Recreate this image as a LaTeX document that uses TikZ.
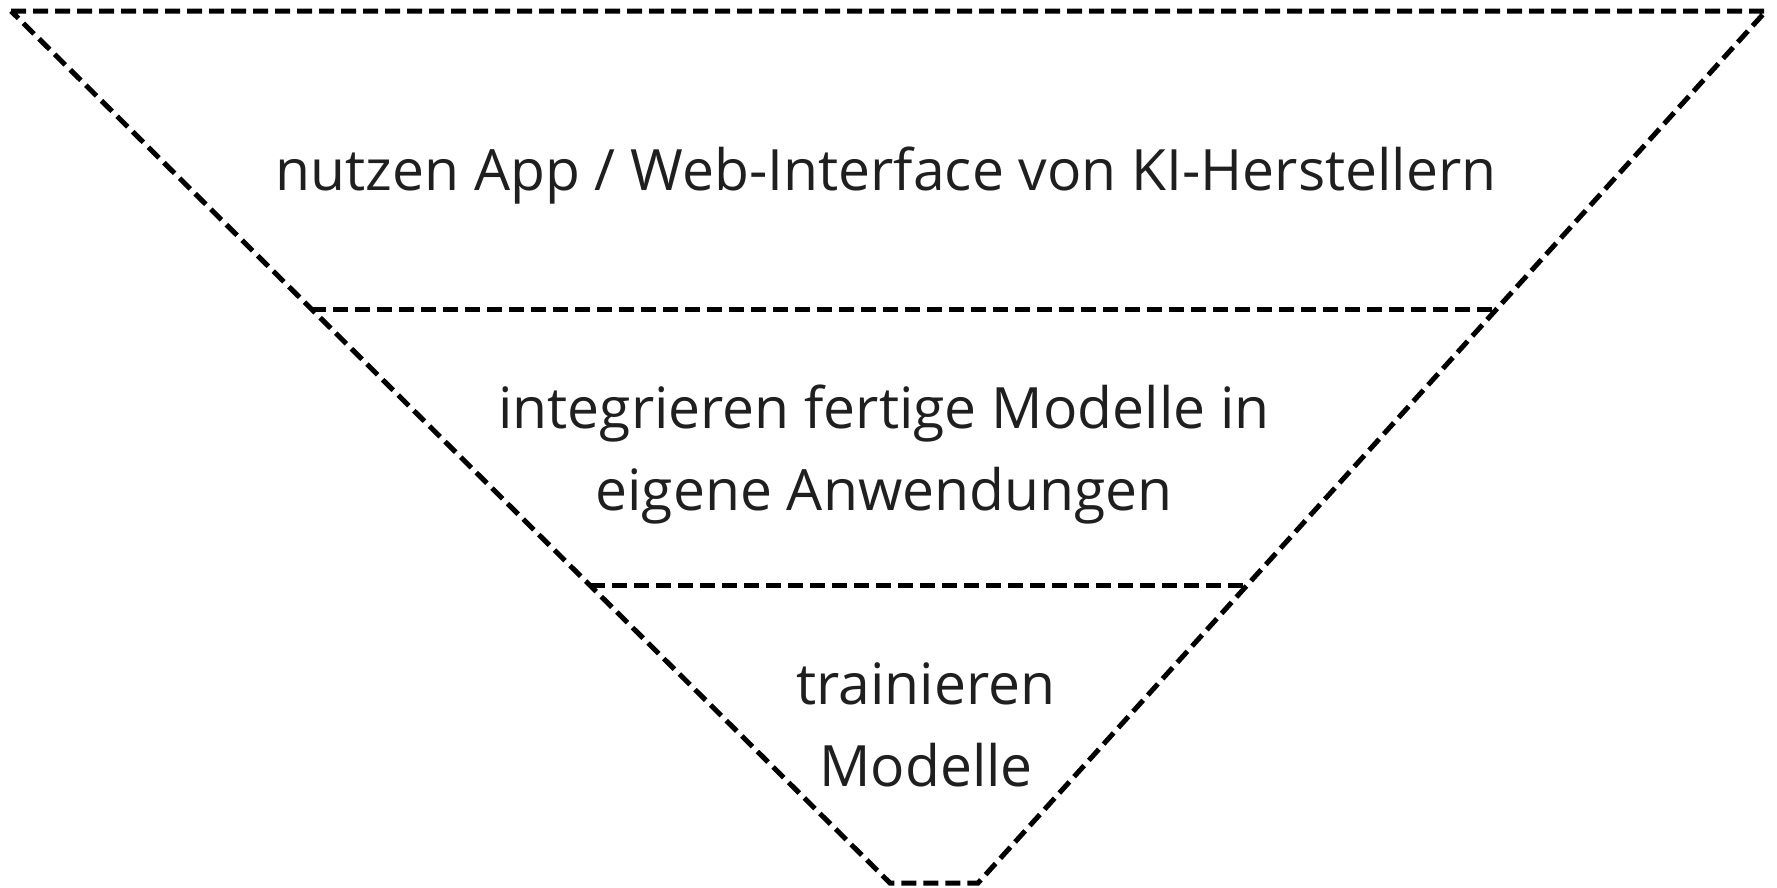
\documentclass[tikz,border=0pt]{standalone}
\usepackage{fontspec}
\setmainfont{Open Sans}
\begin{document}
\begin{tikzpicture}[x=1pt,y=-1pt,
  layerline/.style={line width=5pt, dash pattern=on 15pt off 7pt, line join=miter},
  layertext/.style={inner sep=0pt, align=center, text=black!88,
    font=\fontsize{57}{82}\selectfont}]
  \useasboundingbox (0,0) rectangle (1777,887);
  % funnel outline
  \coordinate (tl) at (11,11);
  \coordinate (tr) at (1766,11);
  \coordinate (bl) at (890,883);
  \coordinate (br) at (978,883);
  \draw[layerline] (tl) -- (tr) -- (br) -- (bl) -- cycle;
  % layer separators
  \coordinate (a1) at (311,309);
  \coordinate (a2) at (1497,309);
  \coordinate (b1) at (590,585);
  \coordinate (b2) at (1247,585);
  \draw[layerline] (a1) -- (a2);
  \draw[layerline] (b1) -- (b2);
  % layer labels (base = baseline of the last line)
  \node[layertext, anchor=base] (top) at (886,190) {nutzen App / Web-Interface von KI-Herstellern};
  \node[layertext, anchor=base] (mid) at (884,510) {integrieren fertige Modelle in\\eigene Anwendungen};
  \node[layertext, anchor=base] (low) at (926,786) {trainieren\\Modelle};
\end{tikzpicture}
\end{document}
